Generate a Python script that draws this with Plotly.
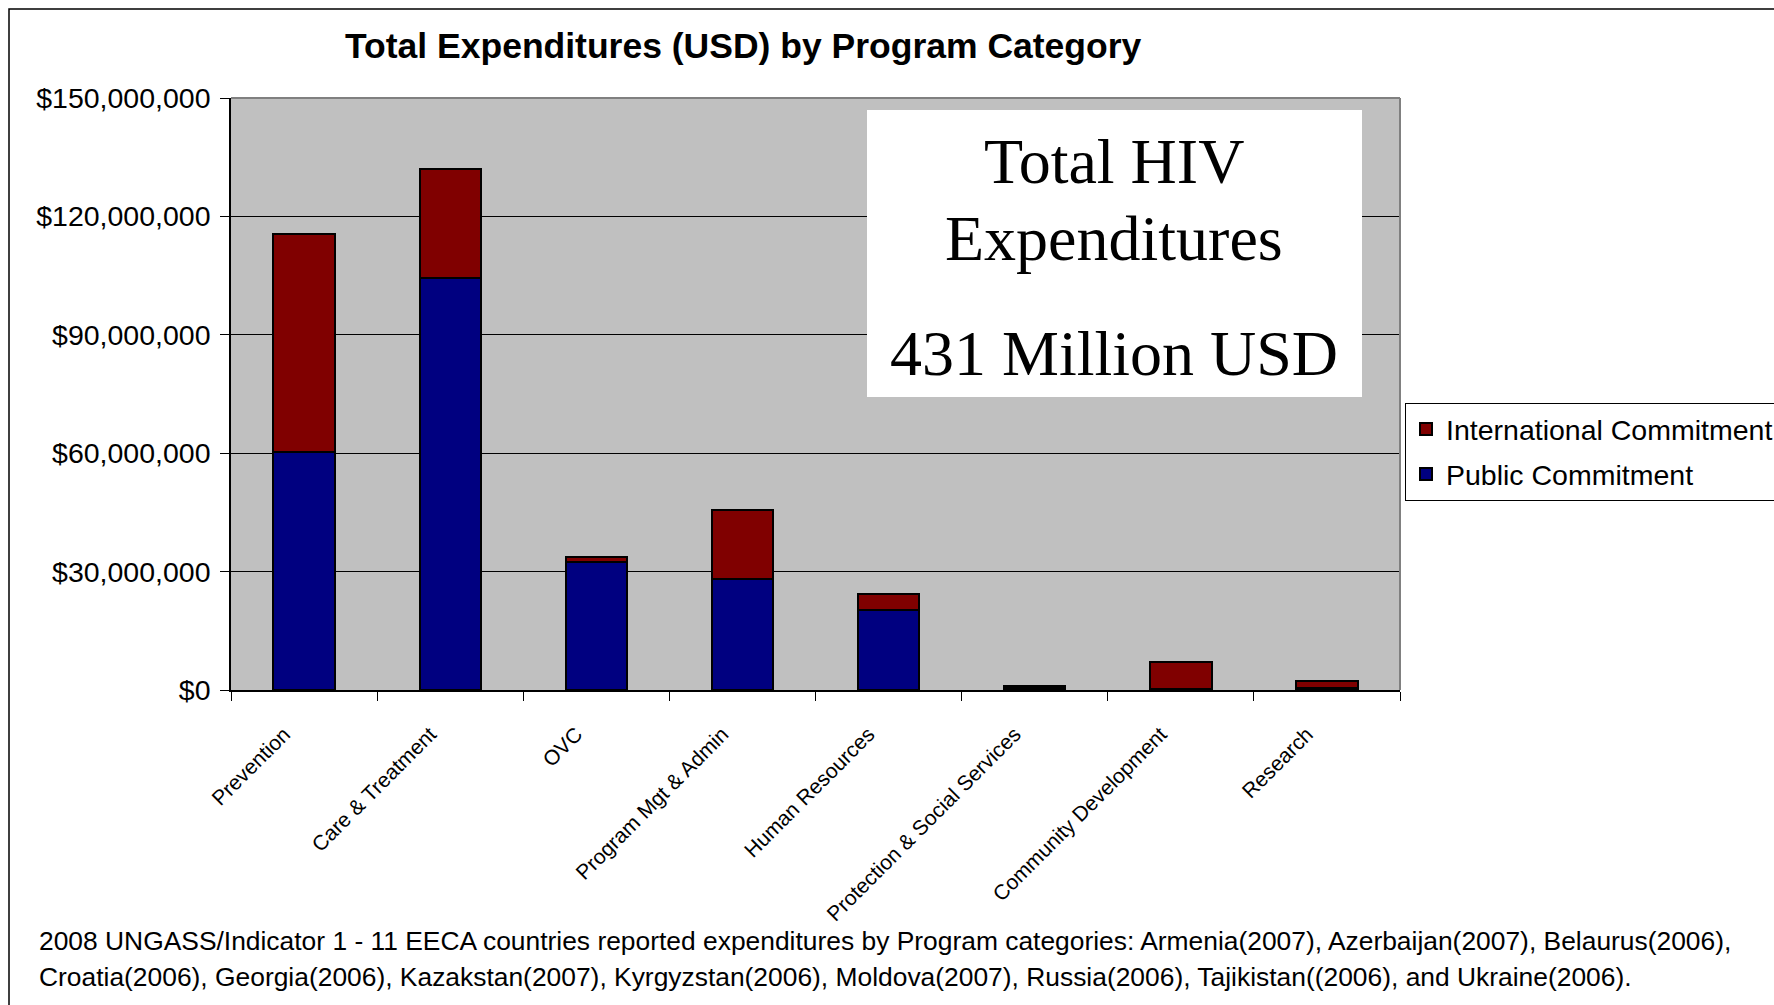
import plotly.graph_objects as go

# ---- data -------------------------------------------------------------
categories = [
    "Prevention", "Care & Treatment", "OVC", "Program Mgt & Admin",
    "Human Resources", "Protection & Social Services",
    "Community Development", "Research",
]
public_commitment = [60.2e6, 104.3e6, 32.5e6, 28.1e6, 20.3e6, 0.6e6, 0.3e6, 0.4e6]
international_commitment = [55.4e6, 27.6e6, 1.3e6, 17.5e6, 4.0e6, 0.5e6, 6.9e6, 1.9e6]

y_tick_values = [0, 30e6, 60e6, 90e6, 120e6, 150e6]
y_tick_labels = ["$0", "$30,000,000", "$60,000,000", "$90,000,000",
                 "$120,000,000", "$150,000,000"]

title_text = "Total Expenditures (USD) by Program Category"
box_lines = ["Total HIV", "Expenditures", "431 Million USD"]
footnote_lines = [
    "2008 UNGASS/Indicator 1 - 11 EECA countries reported expenditures by Program "
    "categories: Armenia(2007), Azerbaijan(2007), Belaurus(2006),",
    "Croatia(2006), Georgia(2006), Kazakstan(2007), Kyrgyzstan(2006), Moldova(2007), "
    "Russia(2006), Tajikistan((2006), and Ukraine(2006).",
]

# ---- page geometry (pixels) -----------------------------------------------
W, H = 1774, 1005
PL, PR, PT, PB = 231, 1400, 98, 690
PW, PH = PR - PL, PB - PT


def px(x):
    return (x - PL) / PW


def py(y):
    return (PB - y) / PH


SANS = "Liberation Sans, Arial, sans-serif"
SERIF = "Liberation Serif, Times New Roman, serif"

fig = go.Figure()
fig.add_trace(go.Bar(
    name="Public Commitment", x=categories, y=public_commitment,
    legendgroup="public", legendrank=2,
    marker=dict(color="#000080", line=dict(color="black", width=2)),
))
fig.add_trace(go.Bar(
    name="International Commitment", x=categories, y=international_commitment,
    legendgroup="international", legendrank=1,
    marker=dict(color="#800000", line=dict(color="black", width=2)),
))

shapes = [
    # plot frame (top / right) in grey
    dict(type="line", xref="paper", yref="paper", x0=0, x1=1, y0=1, y1=1,
         line=dict(color="#808080", width=2), layer="above"),
    dict(type="line", xref="paper", yref="paper", x0=1, x1=1, y0=0, y1=1,
         line=dict(color="#808080", width=2), layer="above"),
    # white text panel
    dict(type="rect", xref="paper", yref="paper",
         x0=px(867), x1=px(1362), y0=py(397), y1=py(110),
         fillcolor="white", line=dict(width=0), layer="above"),
    # outer chart border
    dict(type="rect", xref="paper", yref="paper",
         x0=px(9), x1=px(1790), y0=py(1020), y1=py(9),
         line=dict(color="black", width=1.5), fillcolor="rgba(0,0,0,0)",
         layer="above"),
]

annotations = [
    dict(text="<b>%s</b>" % title_text, xref="paper", yref="paper",
         x=px(743), y=py(46), xanchor="center", yanchor="middle",
         showarrow=False, font=dict(family=SANS, size=35.5, color="black")),
]
for line, yc in zip(box_lines, [161, 238, 353]):
    annotations.append(dict(
        text=line, xref="paper", yref="paper", x=px(1114), y=py(yc),
        xanchor="center", yanchor="middle", showarrow=False,
        font=dict(family=SERIF, size=64, color="black")))
for line, yc in zip(footnote_lines, [941, 977]):
    annotations.append(dict(
        text=line, xref="paper", yref="paper", x=px(37), y=py(yc),
        xanchor="left", yanchor="middle", showarrow=False,
        font=dict(family=SANS, size=26.4, color="black")))

fig.update_layout(
    width=W, height=H,
    margin=dict(l=PL, r=W - PR, t=PT, b=H - PB, autoexpand=False),
    barmode="stack", bargap=0.58,
    paper_bgcolor="white", plot_bgcolor="#C0C0C0",
    showlegend=True,
    legend=dict(
        x=px(1405), y=py(403), xanchor="left", yanchor="top",
        traceorder="grouped", bgcolor="white",
        bordercolor="black", borderwidth=1,
        font=dict(family=SANS, size=28.5, color="black"),
        itemwidth=30, tracegroupgap=5,
    ),
    xaxis=dict(
        type="category", tickangle=-45, tickson="boundaries",
        ticks="outside", ticklen=9, tickcolor="black", tickwidth=1,
        showline=True, linecolor="black", linewidth=1.5,
        showgrid=False,
        ticklabelstandoff=22, ticklabelshift=-20,
        tickfont=dict(family=SANS, size=21, color="black"),
    ),
    yaxis=dict(
        range=[0, 150e6], tickmode="array",
        tickvals=y_tick_values, ticktext=y_tick_labels,
        ticks="outside", ticklen=9, tickcolor="black", tickwidth=1,
        showline=True, linecolor="black", linewidth=1.5,
        showgrid=True, gridcolor="black", gridwidth=1, zeroline=False,
        ticklabelstandoff=4,
        tickfont=dict(family=SANS, size=28.5, color="black"),
    ),
    shapes=shapes,
    annotations=annotations,
)

fig.write_html("out.html")
